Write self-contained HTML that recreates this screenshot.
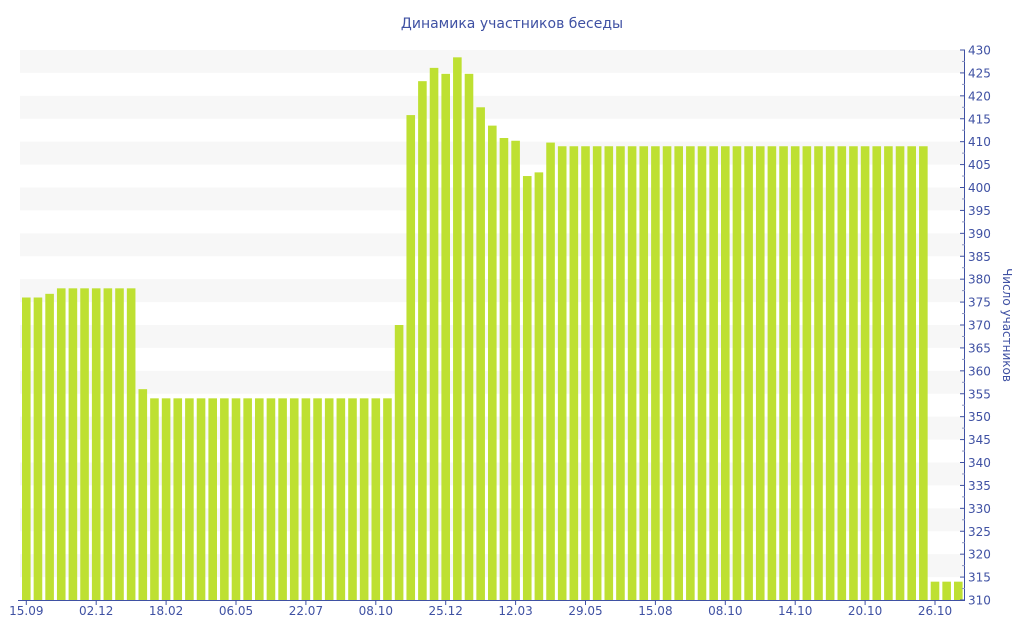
<!DOCTYPE html>
<html><head><meta charset="utf-8"><style>
html,body{margin:0;padding:0;background:#fff;width:1024px;height:640px;overflow:hidden}
svg{display:block;font-family:"DejaVu Sans","Liberation Sans",sans-serif}
</style></head><body>
<svg id="c" width="1024" height="640" xmlns="http://www.w3.org/2000/svg">
<text x="512" y="28" text-anchor="middle" font-size="14" fill="#3f51a3">Динамика участников беседы</text>
<g id="bands"></g><g id="bars"></g><g id="axes"></g>
<text transform="translate(1003,325) rotate(90)" text-anchor="middle" font-size="12" fill="#3f51a3">Число участников</text>
</svg>
<script>
var NS="http://www.w3.org/2000/svg";
function el(p,t,a,txt){var e=document.createElementNS(NS,t);for(var k in a)e.setAttribute(k,a[k]);if(txt)e.textContent=txt;document.getElementById(p).appendChild(e);}
function Y(v){return 600-(v-310)*550/120;}
for(var v=425;v>=310;v-=10){el("bands","rect",{x:20,y:Y(v+5),width:945,height:Y(v)-Y(v+5),fill:"#f7f7f7"});}
var vals=[376,376,376.8,378,378,378,378,378,378,378,356];
for(var i=11;i<=31;i++)vals.push(354);
vals=vals.concat([370,415.8,423.2,426.1,424.8,428.4,424.8,417.5,413.5,410.8,410.2,402.5,403.3,409.8]);
while(vals.length<78)vals.push(409);
vals.push(314,314,314);
vals.forEach(function(v,i){var x=22+i*11.65;el("bars","rect",{x:x,y:Y(v),width:8.6,height:600-Y(v),fill:"#bee032"});});
el("axes","line",{x1:18,y1:600.5,x2:965,y2:600.5,stroke:"#3f51a3","stroke-width":1});
el("axes","line",{x1:964.5,y1:50,x2:964.5,y2:601,stroke:"#3f51a3","stroke-width":1});
for(var v=310;v<=430;v+=5){var y=Y(v);el("axes","line",{x1:960,y1:y,x2:965,y2:y,stroke:"#3f51a3"});el("axes","text",{x:968,y:y+4.5,"font-size":12,fill:"#3f51a3"},String(v));
 if(v<430){var y2=Y(v+2.5);el("axes","line",{x1:962,y1:y2,x2:965,y2:y2,stroke:"#8a93c0"});}}
var labs=["15.09","02.12","18.02","06.05","22.07","08.10","25.12","12.03","29.05","15.08","08.10","14.10","20.10","26.10"];
labs.forEach(function(l,k){var x=22+k*6*11.65+4.3;el("axes","line",{x1:x,y1:600,x2:x,y2:605,stroke:"#3f51a3"});el("axes","text",{x:x,y:615,"text-anchor":"middle","font-size":12,fill:"#3f51a3"},l);});
</script>
</body></html>
